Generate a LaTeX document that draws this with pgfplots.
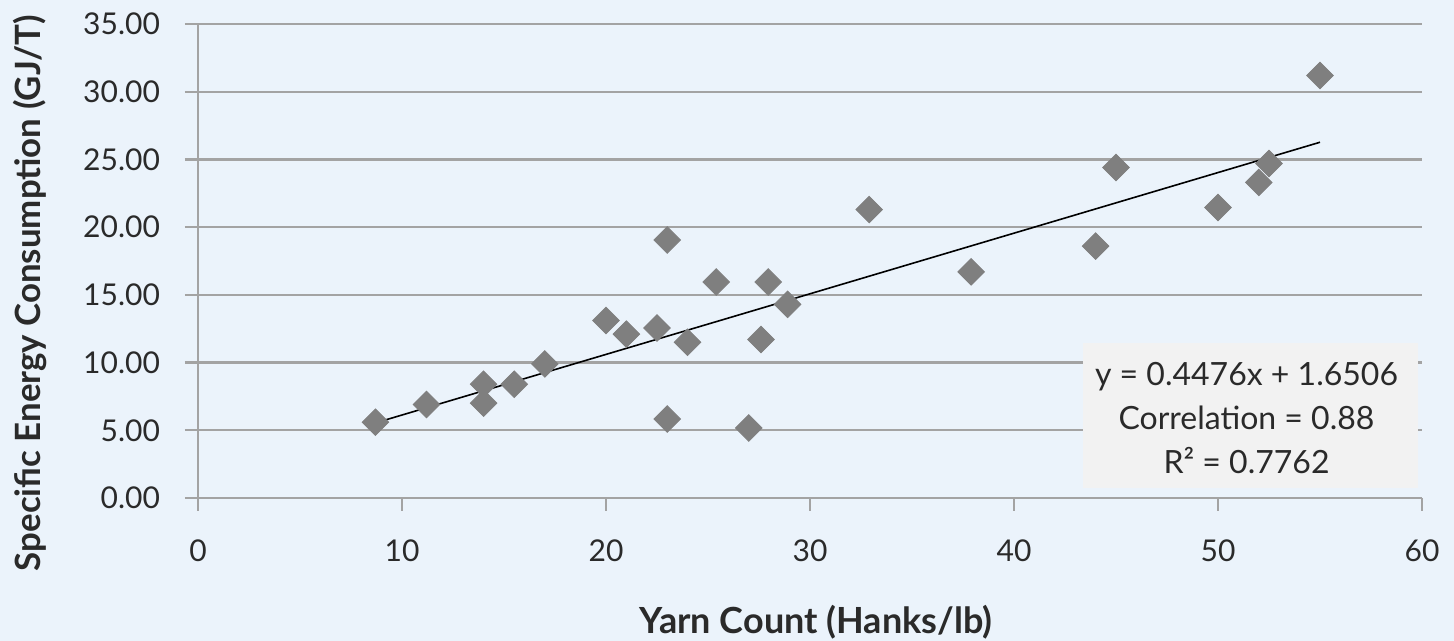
\documentclass[border=0pt]{standalone}
\usepackage{pgfplots}
\pgfplotsset{compat=1.18}
\usepackage{fontspec}
\setmainfont{Lato}
\definecolor{bgblue}{HTML}{EBF3FB}
\definecolor{boxgray}{HTML}{F2F2F2}
\definecolor{markgray}{HTML}{7F7F7F}
\definecolor{gridgray}{HTML}{A3A3A3}
\definecolor{txt}{HTML}{2A2A2A}

\begin{document}
\begin{tikzpicture}
\path[use as bounding box, fill=bgblue] (0,0) rectangle (727pt,320.5pt);
\begin{axis}[
  at={(99pt,71.5pt)}, anchor=south west,
  scale only axis, width=612pt, height=237pt,
  xmin=0, xmax=60, ymin=0, ymax=35,
  xtick={0,10,...,60}, ytick={0,5,...,35},
  axis x line*=bottom, axis y line*=left,
  axis line style={-, gridgray, line width=1.2pt},
  ymajorgrids, grid style={gridgray, line width=1.2pt},
  tick style={gridgray, line width=1.2pt},
  tick align=outside, major tick length=6.5pt,
  /pgf/number format/assume math mode=true,
  ticklabel style={font=\fontsize{15}{18}\selectfont, text=txt},
  yticklabel style={xshift=-9pt, /pgf/number format/.cd, fixed, fixed zerofill, precision=2},
  xticklabel style={yshift=-11pt},
  xlabel={Yarn Count (Hanks/lb)},
  ylabel={Specific Energy Consumption (GJ/T)},
  every axis x label/.style={at={(axis description cs:0.505,-0.2616)}, anchor=center,
    font=\bfseries\fontsize{18}{21}\selectfont, text=txt},
  every axis y label/.style={at={(axis description cs:-0.1373,0.4325)}, rotate=90, anchor=center,
    font=\bfseries\fontsize{17.4}{20}\selectfont, text=txt},
  clip=false,
]
\fill[boxgray] (axis cs:43.4,0.74) rectangle (axis cs:59.8,11.45);
\node[align=center, font=\fontsize{16}{22}\selectfont, text=txt] at (axis cs:51.4,5.9)
  {y = 0.4476x + 1.6506\\Correlation = 0.88\\R² = 0.7762};
\addplot[only marks, color=markgray, mark=square*, mark size=4.7pt,
  mark options={rotate=45, fill=markgray, draw=markgray}] coordinates {
  (8.7,5.6) (11.2,6.9) (14.0,8.4) (14.0,7.0) (15.5,8.4) (17.0,9.9)
  (20.0,13.1) (21.0,12.1) (22.5,12.55) (23.0,19.05) (23.0,5.83)
  (24.0,11.5) (25.4,15.95) (27.0,5.17) (27.6,11.7) (27.95,15.95)
  (28.9,14.3) (32.9,21.3) (37.9,16.7) (44.0,18.6) (45.0,24.4)
  (50.0,21.45) (52.0,23.3) (52.5,24.7) (55.0,31.2)
};
\addplot[black, line width=0.8pt] coordinates {(8.7,5.545) (55,26.268)};
\end{axis}
\end{tikzpicture}
\end{document}
